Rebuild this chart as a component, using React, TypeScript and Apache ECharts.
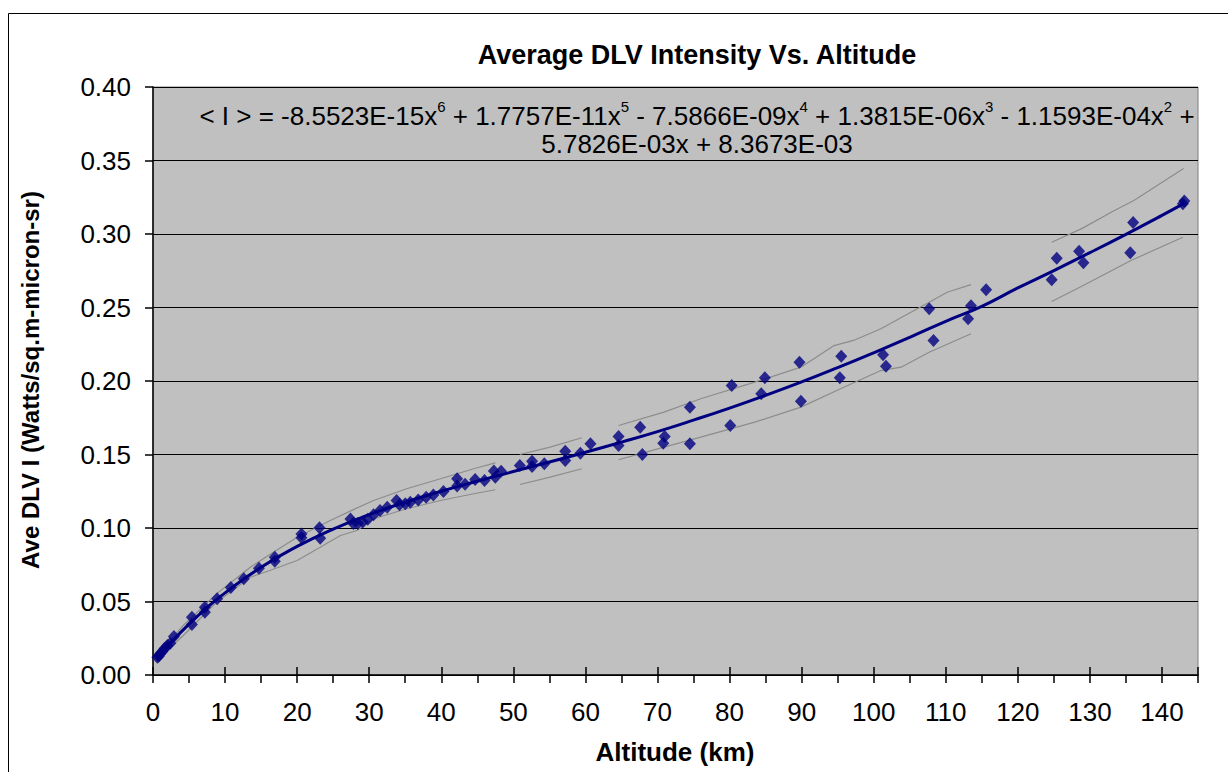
import React, { useEffect, useRef } from "react";
import * as echarts from "echarts";

// Observed points (altitude km, average DLV intensity)
const altitudes = [
  0.6, 0.8, 1.0, 1.3, 1.6, 2.0, 2.4, 2.9,
  5.4, 5.4, 7.2, 7.2, 8.9, 10.8, 12.6, 14.7, 16.9, 16.9, 20.6, 20.6, 23.1, 23.2,
  27.4, 27.8, 28.4, 29.1, 29.8, 30.6, 31.5, 32.5, 33.8, 34.2, 35.0, 35.7, 36.8, 37.9, 38.9, 40.3,
  42.2, 42.2, 43.3, 44.7, 46.0, 47.3, 47.5, 48.3, 50.9, 52.6, 52.6, 54.3, 57.2, 57.2, 59.3, 60.7,
  64.6, 64.6, 67.6, 67.9, 71.0, 70.8, 74.5, 74.5, 80.1, 80.3, 84.4, 84.9, 89.7, 89.9,
  95.5, 95.3, 101.3, 101.7, 107.7, 108.3, 113.5, 113.1, 115.6, 124.7, 125.4, 128.5, 129.1,
  135.6, 136.0, 142.9, 143.1,
];
const intensities = [
  0.0121, 0.0128, 0.0144, 0.0160, 0.0180, 0.0200, 0.0216, 0.0262,
  0.0393, 0.0344, 0.0461, 0.0427, 0.0518, 0.0596, 0.0654, 0.0726, 0.0801, 0.0774, 0.0960, 0.0933, 0.1001, 0.0930,
  0.1062, 0.1030, 0.1030, 0.1040, 0.1060, 0.1090, 0.1119, 0.1142, 0.1187, 0.1158, 0.1165, 0.1176, 0.1190, 0.1210, 0.1225, 0.1248,
  0.1335, 0.1285, 0.1298, 0.1330, 0.1323, 0.1388, 0.1346, 0.1386, 0.1425, 0.1454, 0.1418, 0.1437, 0.1522, 0.1459, 0.1509, 0.1573,
  0.1622, 0.1561, 0.1686, 0.1500, 0.1622, 0.1577, 0.1822, 0.1573, 0.1697, 0.1969, 0.1913, 0.2022, 0.2128, 0.1863,
  0.2169, 0.2022, 0.2178, 0.2101, 0.2491, 0.2276, 0.2512, 0.2423, 0.2620, 0.2688, 0.2835, 0.2883, 0.2804,
  0.2872, 0.3078, 0.3205, 0.3225,
];

// Trend line
const trendX = [0.5, 2.5, 5, 7.5, 10, 15, 20, 25, 30, 35, 40, 45, 50, 55, 60, 65, 70, 75, 80, 85, 90, 95, 100, 105, 110, 115, 120, 125, 130, 135, 140, 143];
const trendY = [0.0112, 0.0221, 0.0346, 0.0458, 0.0559, 0.0733, 0.0875, 0.0993, 0.1091, 0.1175, 0.1250, 0.1318, 0.1384, 0.1449, 0.1515, 0.1584, 0.1656, 0.1734, 0.1816, 0.1903, 0.1994, 0.2091, 0.2192, 0.2297, 0.2406, 0.2508, 0.2633, 0.2751, 0.2873, 0.2998, 0.3127, 0.3207];

// Grey band segments
const upperAX = [0.5, 4.2, 8.8, 13.5, 16.7, 20, 24.6, 27.8, 30.6, 35.2, 39.9, 44.5, 47.5];
const upperAY = [0.0130, 0.0337, 0.0552, 0.0733, 0.0835, 0.0937, 0.1051, 0.1125, 0.1187, 0.1267, 0.1335, 0.1403, 0.1443];
const lowerAX = [0.5, 4.2, 8.8, 13.5, 16.2, 20, 23.2, 26, 28.3, 30.6, 35.2, 39.9, 44.5, 47.5];
const lowerAY = [0.0100, 0.0269, 0.0495, 0.0665, 0.0711, 0.0779, 0.0869, 0.0949, 0.0983, 0.1063, 0.1131, 0.1187, 0.1233, 0.1260];
const upperBX = [50.9, 55.1, 59.5];
const upperBY = [0.1500, 0.1550, 0.1614];
const lowerBX = [50.9, 55.1, 59.5];
const lowerBY = [0.1296, 0.1346, 0.1403];
const upperCX = [64.6, 70.9, 76, 83.5, 89.9, 94.5, 97.2, 101, 107.7, 110.2, 113.5];
const upperCY = [0.1697, 0.1788, 0.1879, 0.1992, 0.2094, 0.2241, 0.2276, 0.2355, 0.2536, 0.2604, 0.2656];
const lowerCX = [64.6, 70.9, 76, 83.5, 89.9, 95.4, 101, 103.8, 107.7, 113.5];
const lowerCY = [0.1464, 0.1550, 0.1618, 0.1720, 0.1822, 0.1947, 0.2071, 0.2094, 0.2196, 0.2321];
const upperDX = [124.7, 128.8, 133.4, 136.1, 143];
const upperDY = [0.2944, 0.3035, 0.3160, 0.3228, 0.3446];
const lowerDX = [124.7, 128.8, 135.7, 142.9];
const lowerDY = [0.2541, 0.2643, 0.2820, 0.2978];

const bands = [
  [upperAX, upperAY], [lowerAX, lowerAY],
  [upperBX, upperBY], [lowerBX, lowerBY],
  [upperCX, upperCY], [lowerCX, lowerCY],
  [upperDX, upperDY], [lowerDX, lowerDY],
];

const titleText = "Average DLV Intensity Vs. Altitude";
const xTitle = "Altitude (km)";
const yTitle = "Ave DLV I (Watts/sq.m-micron-sr)";
const eqLine1 = "{n|< I > = -8.5523E-15x}{s|6}{n| + 1.7757E-11x}{s|5}{n| - 7.5866E-09x}{s|4}{n| + 1.3815E-06x}{s|3}{n| - 1.1593E-04x}{s|2}{n| +}";
const eqLine2 = "5.7826E-03x + 8.3673E-03";

const FONT = "'Liberation Sans', Arial, sans-serif";

export default function App() {
  const ref = useRef<HTMLDivElement>(null);
  useEffect(() => {
    if (!ref.current) return;
    const chart = echarts.init(ref.current, null, { renderer: "svg" });
    const bandSeries = bands.map(([xs, ys]) => ({
      type: "line",
      data: xs.map((x, i) => [x, ys[i]]),
      showSymbol: false,
      symbol: "none",
      lineStyle: { color: "#8c8c8c", width: 1.2 },
      silent: true,
      z: 2,
    }));
    chart.setOption({
      animation: false,
      backgroundColor: "#ffffff",
      grid: {
        left: 153, right: 30, top: 87, bottom: 97,
        show: true, backgroundColor: "#C0C0C0", borderColor: "#808080", borderWidth: 1,
      },
      xAxis: [
        {
          type: "value", min: 0, max: 145, interval: 5,
          axisLine: { show: true, lineStyle: { color: "#000", width: 1.5 } },
          axisTick: { show: true, inside: false, length: 8, lineStyle: { color: "#000", width: 1.5 } },
          axisLabel: {
            color: "#000", fontSize: 26, fontFamily: FONT, margin: 24,
            formatter: (v: number) => (v % 10 === 0 ? String(v) : ""),
          },
          splitLine: { show: false },
        },
        {
          type: "value", min: 0, max: 145, interval: 10, position: "bottom", gridIndex: 0,
          axisLine: { show: false },
          axisTick: { show: true, inside: true, length: 8, lineStyle: { color: "#000", width: 1.5 } },
          axisLabel: { show: false },
          splitLine: { show: false },
        },
      ],
      yAxis: {
        type: "value", min: 0, max: 0.4, interval: 0.05,
        axisLine: { show: true, lineStyle: { color: "#000", width: 1.5 } },
        axisTick: { show: true, inside: false, length: 8, lineStyle: { color: "#000", width: 1.5 } },
        axisLabel: {
          color: "#000", fontSize: 26, fontFamily: FONT, margin: 22,
          formatter: (v: number) => v.toFixed(2),
        },
        splitLine: { show: true, lineStyle: { color: "#000", width: 1 } },
      },
      series: [
        ...bandSeries,
        {
          type: "scatter",
          data: altitudes.map((a, i) => [a, intensities[i]]),
          symbol: "diamond",
          symbolSize: [12, 13],
          itemStyle: { color: "#000080" },
          z: 3,
        },
        {
          type: "line",
          data: trendX.map((x, i) => [x, trendY[i]]),
          smooth: true,
          showSymbol: false,
          symbol: "none",
          lineStyle: { color: "#000080", width: 3 },
          z: 4,
        },
      ],
      graphic: [
        {
          type: "rect", silent: true, z: 0,
          shape: { x: 8.5, y: 13.5, width: 1400, height: 900 },
          style: { fill: "none", stroke: "#000", lineWidth: 1 },
        },
        {
          type: "text", x: 697, y: 55, z: 10,
          style: { text: titleText, fontSize: 27, fontWeight: "bold", fontFamily: FONT, fill: "#000", align: "center", verticalAlign: "middle" },
        },
        {
          type: "text", x: 697, y: 114, z: 10,
          style: {
            text: eqLine1, align: "center", verticalAlign: "middle",
            rich: {
              n: { fontSize: 26, fontFamily: FONT, fill: "#000", lineHeight: 30, verticalAlign: "bottom" },
              s: { fontSize: 15, fontFamily: FONT, fill: "#000", lineHeight: 30, verticalAlign: "top" },
            },
          },
        },
        {
          type: "text", x: 697, y: 144, z: 10,
          style: { text: eqLine2, fontSize: 26, lineHeight: 26, fontFamily: FONT, fill: "#000", align: "center", verticalAlign: "middle" },
        },
        {
          type: "text", x: 675, y: 752, z: 10,
          style: { text: xTitle, fontSize: 26, fontWeight: "bold", fontFamily: FONT, fill: "#000", align: "center", verticalAlign: "middle" },
        },
        {
          type: "text", x: 30, y: 380, rotation: Math.PI / 2, z: 10,
          style: { text: yTitle, fontSize: 24, fontWeight: "bold", fontFamily: FONT, fill: "#000", align: "center", verticalAlign: "middle" },
        },
      ],
    });
    return () => chart.dispose();
  }, []);
  return <div ref={ref} style={{ position: "absolute", left: 0, top: 0, width: 1228, height: 772 }} />;
}
